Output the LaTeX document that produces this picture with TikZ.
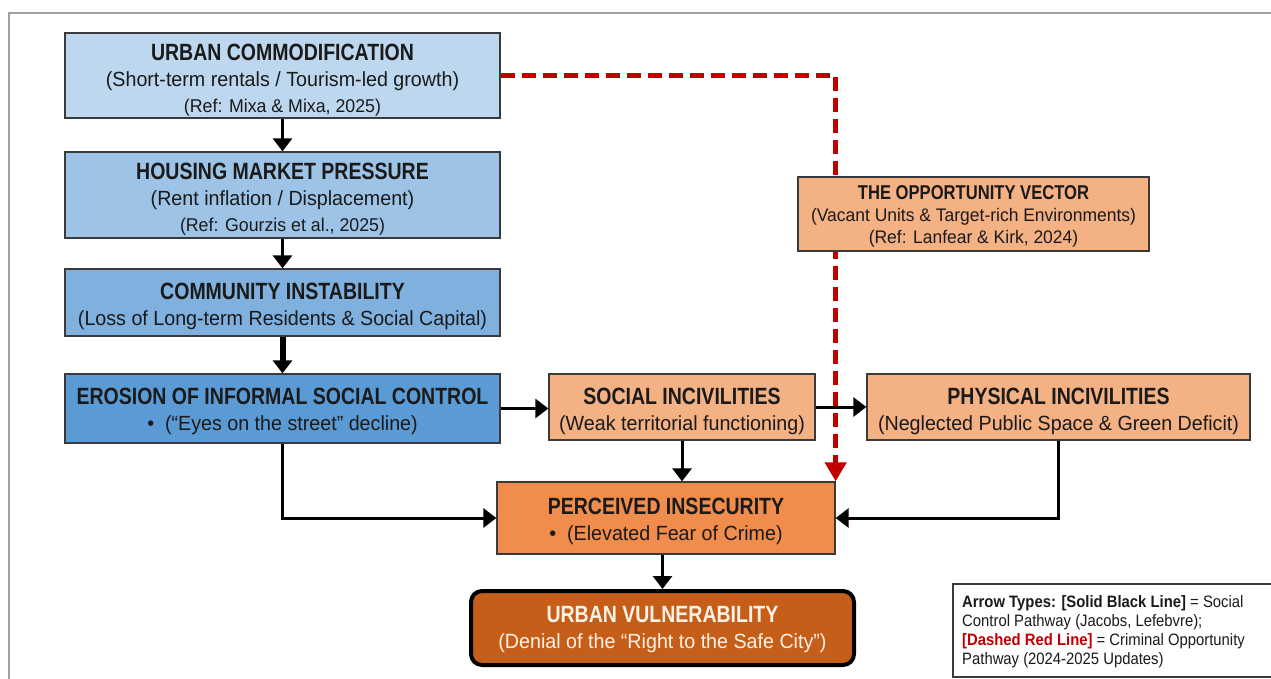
\documentclass[tikz,border=0pt]{standalone}
\usepackage{fontspec}
\setmainfont{Liberation Sans}[FakeStretch=0.96, BoldFeatures={FakeStretch=0.83}]
\newfontfamily\legfont{Liberation Sans}[FakeStretch=0.9]
\usetikzlibrary{arrows.meta}
\definecolor{bA}{HTML}{BDD7EE}
\definecolor{bB}{HTML}{9DC3E6}
\definecolor{bC}{HTML}{7FB0DE}
\definecolor{bD}{HTML}{5B9BD5}
\definecolor{oA}{HTML}{F4B183}
\definecolor{oB}{HTML}{F08C4C}
\definecolor{oC}{HTML}{C55E18}
\definecolor{txt}{HTML}{1A1A1A}
\definecolor{edge}{HTML}{3A3A3A}
\definecolor{redd}{HTML}{C00000}
\definecolor{frame}{HTML}{9AA0A6}
\definecolor{uvtxt}{HTML}{FFF2E6}
\newcommand{\bxtitle}{\fontsize{23.5}{26}\selectfont\bfseries}
\newcommand{\bxsub}{\fontsize{20.5}{26}\selectfont\mdseries}
\newcommand{\bxref}{\fontsize{18.5}{26}\selectfont\mdseries}
\tikzset{
  box/.style={draw=edge, line width=1.3pt, inner sep=0pt},
  lbl/.style={align=center, inner sep=0pt, text=txt, font=\fontsize{21}{26}\selectfont},
  conn/.style={line width=3pt, -{Triangle[length=13pt,width=19pt]}, black},
  redconn/.style={line width=4.5pt, redd, dash pattern=on 14pt off 7pt, -{Triangle[length=19pt,width=21pt]}},
}
\begin{document}
\begin{tikzpicture}[x=1pt,y=-1pt]
\useasboundingbox (0,0) rectangle (1271,678);
\fill[white] (0,0) rectangle (1271,678);
% frame
\draw[frame, line width=2pt] (9,680) -- (9,13) -- (1273,13);

% boxes
\node[box, fill=bA, minimum width=435pt, minimum height=85pt] (uc) at (282.5,75.5) {};
\node[lbl, yshift=-5pt] (uct) at (uc.center)
  {\bxtitle URBAN COMMODIFICATION\\\bxsub (Short-term rentals / Tourism-led growth)\\\bxref (Ref: Mixa \& Mixa, 2025)};
\node[box, fill=bB, minimum width=435pt, minimum height=86pt] (hm) at (282.5,195) {};
\node[lbl, yshift=-4pt] (hmt) at (hm.center)
  {\bxtitle HOUSING MARKET PRESSURE\\\bxsub (Rent inflation / Displacement)\\\bxref (Ref: Gourzis et al., 2025)};
\node[box, fill=bC, minimum width=435pt, minimum height=67pt] (ci) at (282.5,302.5) {};
\node[lbl, yshift=-3.5pt] (cit) at (ci.center)
  {\bxtitle COMMUNITY INSTABILITY\\\bxsub (Loss of Long-term Residents \& Social Capital)};
\node[box, fill=bD, minimum width=435pt, minimum height=69pt] (er) at (282.5,408.5) {};
\node[lbl, yshift=-3pt] (ert) at (er.center)
  {\bxtitle EROSION OF INFORMAL SOCIAL CONTROL\\\bxsub \textbullet\ \ (``Eyes on the street'' decline)};
\node[box, fill=oA, minimum width=266pt, minimum height=66pt] (si) at (682,407) {};
\node[lbl, yshift=-4pt] (sit) at (si.center)
  {\bxtitle SOCIAL INCIVILITIES\\\bxsub (Weak territorial functioning)};
\node[box, fill=oA, minimum width=383pt, minimum height=66pt] (pi) at (1058.5,407) {};
\node[lbl, yshift=-4pt] (pit) at (pi.center)
  {\bxtitle PHYSICAL INCIVILITIES\\\bxsub (Neglected Public Space \& Green Deficit)};
\node[box, fill=oB, minimum width=338pt, minimum height=72pt] (pe) at (666,518) {};
\node[lbl, yshift=-3.5pt] (pet) at (pe.center)
  {\bxtitle PERCEIVED INSECURITY\\\bxsub \textbullet\ \ (Elevated Fear of Crime)};

% red dashed pathway (drawn behind the opportunity box)
\draw[redconn] (uc.east) -| (pe.north east);

\node[box, fill=oA, minimum width=351pt, minimum height=74pt] (ov) at (973.5,214) {};
\node[lbl, yshift=-2.5pt, font=\fontsize{18}{22}\selectfont] (ovt) at (ov.center)
  {\fontsize{20}{22}\selectfont\bfseries THE OPPORTUNITY VECTOR\\\fontsize{18.2}{22}\selectfont\mdseries (Vacant Units \& Target-rich Environments)\\\fontsize{18.2}{22}\selectfont\mdseries (Ref: Lanfear \& Kirk, 2024)};

\node[box, fill=oC, draw=black, line width=4pt, rounded corners=11pt, minimum width=383pt, minimum height=74pt] (uv) at (662.5,628) {};
\node[lbl, yshift=-2pt, text=uvtxt] (uvt) at (uv.center)
  {\bxtitle URBAN VULNERABILITY\\\bxsub (Denial of the ``Right to the Safe City'')};

% connectors
\draw[conn] (uc.south) -- (hm.north);
\draw[conn] (hm.south) -- (ci.north);
\draw[conn, line width=6pt] (ci.south) -- (er.north);
\draw[conn] (er.east) -- (er.east -| si.west);
\draw[conn] (si.east) -- (si.east -| pi.west);
\draw[conn] (si.south) -- (si.south |- pe.north);
\draw[conn] (er.south) |- (pe.west);
\draw[conn] (pi.south) |- (pe.east);
\draw[conn] (pe.south -| uv.north) -- (uv.north);

% legend
\draw[edge, line width=1.3pt, fill=white] (1273,584) -- (953,584) -- (953,677) -- (1273,677);
\node[anchor=north west, align=left, inner sep=0pt, text=txt, font=\legfont\fontsize{16.5}{19}\selectfont] (lg) at (962,595)
  {\textbf{Arrow Types: [Solid Black Line]} = Social\\
   Control Pathway (Jacobs, Lefebvre);\\
   \textcolor{redd}{\textbf{[Dashed Red Line]}} = Criminal Opportunity\\
   Pathway (2024-2025 Updates)};
\end{tikzpicture}
\end{document}
